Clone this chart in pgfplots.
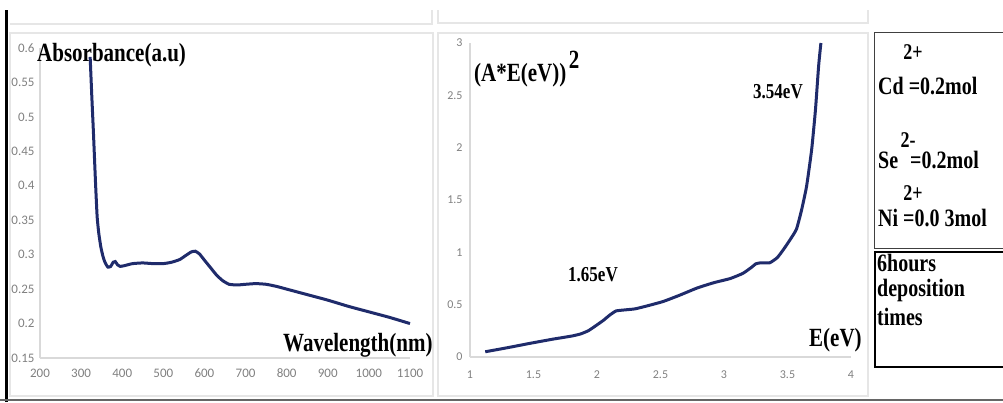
\documentclass[border=0pt]{standalone}
\usepackage{fontspec}
\setmainfont{Liberation Serif}
\newfontfamily\tickfont{Carlito}
\usepackage{graphicx}
\usepackage{pgfplots}
\pgfplotsset{compat=1.18}
\definecolor{curve}{HTML}{1F2B6B}
\definecolor{axgray}{HTML}{D9D9D9}
\definecolor{framegray}{HTML}{E6E6E6}
\definecolor{tickgray}{HTML}{808080}
\newcommand\lab[2]{\scalebox{1}[1.25]{\fontsize{#1}{#1}\selectfont\bfseries #2}}

\pgfplotstableread{
x y
322 0.587
326 0.530
330 0.477
335 0.405
339 0.355
343 0.331
348 0.311
353 0.298
358 0.289
365 0.282
372 0.283
378 0.289
383 0.290
389 0.285
395 0.283
405 0.284
425 0.287
450 0.288
475 0.287
500 0.287
520 0.289
540 0.293
555 0.299
568 0.304
578 0.305
588 0.301
600 0.292
615 0.281
630 0.270
645 0.262
660 0.257
680 0.256
700 0.257
725 0.258
750 0.257
775 0.254
800 0.250
850 0.242
900 0.234
950 0.225
1000 0.217
1050 0.209
1100 0.200
}\absdata

\pgfplotstableread{
x y
1.12 0.05
1.30 0.09
1.47 0.13
1.65 0.17
1.80 0.20
1.87 0.22
1.93 0.25
1.98 0.29
2.05 0.35
2.10 0.40
2.15 0.44
2.22 0.45
2.30 0.46
2.40 0.49
2.52 0.53
2.65 0.59
2.79 0.66
2.92 0.71
3.05 0.75
3.15 0.80
3.22 0.86
3.25 0.89
3.29 0.90
3.36 0.90
3.42 0.95
3.47 1.03
3.52 1.12
3.57 1.22
3.61 1.40
3.65 1.63
3.69 1.98
3.72 2.36
3.745 2.78
3.763 3.00
}\taucdata

\begin{document}
\begin{tikzpicture}[x=1pt,y=1pt]
\useasboundingbox (0,0) rectangle (1003,402);
% panel frames
\draw[framegray, line width=1.5pt] (10,6) rectangle (433,369);
\draw[framegray, line width=1.5pt] (438,6) rectangle (868,369);
\draw[framegray, line width=1.5pt] (10,378) -- (432,378) -- (432,392);
\draw[framegray, line width=1.5pt] (438,392) -- (438,379) -- (868,379) -- (868,392);
% page edge lines
\draw[black, line width=3pt] (6.5,0) -- (6.5,392);
\draw[black!60, line width=1.5pt] (0,2) -- (1003,2);

\pgfplotsset{
  myax/.style={
    scale only axis,
    anchor=south west,
    axis x line*=bottom, axis y line*=left,
    axis line style={axgray, line width=1.3pt, -},
    major tick length=0pt,
    /pgf/number format/assume math mode=true,
    /pgf/number format/1000 sep={},
    clip=false,
  }
}

\begin{axis}[myax, at={(40pt,44pt)}, width=370pt, height=310pt,
  xmin=200, xmax=1100, ymin=0.15, ymax=0.6,
  xtick={200,300,400,500,600,700,800,900,1000,1100},
  ytick={0.15,0.2,0.25,0.3,0.35,0.4,0.45,0.5,0.55,0.6},
  tick label style={font=\tickfont\fontsize{13}{14}\selectfont, text=tickgray},
  yticklabel style={xshift=-2pt},
  xticklabel style={yshift=-10pt, text height=1.3ex, text depth=0pt},
  ]
  \addplot[curve, line width=3pt, smooth, tension=0.3] table[x=x,y=y]{\absdata};
\end{axis}

\begin{axis}[myax, at={(470pt,45pt)}, width=381pt, height=314pt,
  xmin=1, xmax=4, ymin=0, ymax=3,
  xtick={1,1.5,2,2.5,3,3.5,4},
  ytick={0,0.5,1,1.5,2,2.5,3},
  tick label style={font=\tickfont\fontsize{12}{13}\selectfont, text=tickgray},
  yticklabel style={xshift=-4pt},
  xticklabel style={yshift=-12pt, text height=1.3ex, text depth=0pt},
  ]
  \addplot[curve, line width=3pt, smooth, tension=0.3] table[x=x,y=y]{\taucdata};
\end{axis}

% axis titles
\node[anchor=west, inner sep=0pt] at (37,347) {\lab{21}{Absorbance(a.u)}};
\node[anchor=west, inner sep=0pt] at (283,57) {\lab{21}{Wavelength(nm)}};
\node[anchor=west, inner sep=0pt] at (474,327) {\lab{21}{(A*E(eV))}};
\node[inner sep=0pt] at (574,342) {\lab{21}{2}};
\node[anchor=west, inner sep=0pt] at (753,310) {\lab{17}{3.54eV}};
\node[anchor=west, inner sep=0pt] at (568,127) {\lab{17}{1.65eV}};
\node[anchor=west, inner sep=0pt] at (809,62) {\lab{21}{E(eV)}};

% info boxes
\draw[black!75, line width=1pt] (874,154) rectangle (1006,369);
\draw[black, line width=2pt] (875,35) rectangle (1006,150);
\node[inner sep=0pt] at (913,350) {\lab{18}{2+}};
\node[anchor=west, inner sep=0pt] at (878,316) {\lab{20}{Cd =0.2mol}};
\node[anchor=west, inner sep=0pt] at (878,242) {\lab{20}{Se}};
\node[inner sep=0pt] at (908,262) {\lab{18}{2-}};
\node[anchor=west, inner sep=0pt] at (910,242) {\lab{20}{=0.2mol}};
\node[inner sep=0pt] at (913,209) {\lab{18}{2+}};
\node[anchor=west, inner sep=0pt] at (878,184) {\lab{20}{Ni =0.0 3mol}};
\node[anchor=west, inner sep=0pt] at (877,139) {\lab{20}{6hours}};
\node[anchor=west, inner sep=0pt] at (877,112) {\lab{20}{deposition}};
\node[anchor=west, inner sep=0pt] at (877,85) {\lab{20}{times}};
\end{tikzpicture}
\end{document}
